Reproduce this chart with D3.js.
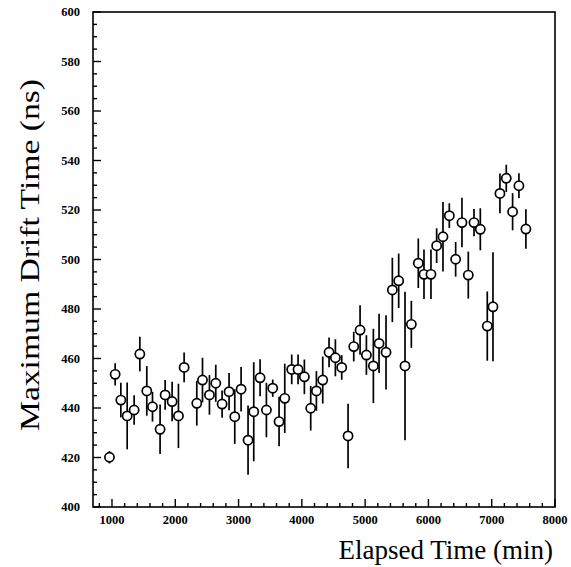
<!DOCTYPE html>
<html><head><meta charset="utf-8">
<script src="https://cdn.jsdelivr.net/npm/d3@7"></script>
<style>body{margin:0;background:#fff}</style>
</head><body>
<svg id="c" width="571" height="567"></svg>
<script>
const elapsed = [960,1050,1140,1240,1350,1440,1550,1640,1760,1840,1950,2050,2140,2340,2430,2540,2640,2740,2850,2940,3040,3150,3240,3340,3440,3540,3640,3730,3840,3940,4040,4140,4230,4330,4430,4530,4630,4730,4820,4920,5020,5130,5220,5330,5430,5530,5630,5730,5840,5930,6040,6130,6230,6330,6430,6530,6630,6720,6820,6930,7020,7130,7230,7330,7430,7540];
const drift = [420.1,453.6,443.2,436.8,439.2,461.8,446.9,440.5,431.4,445.3,442.6,436.8,456.4,441.9,451.3,445.3,450.0,441.6,446.6,436.5,447.6,427.0,438.5,452.2,439.2,448.0,434.5,443.9,455.6,455.6,452.6,439.9,446.9,451.3,462.5,460.3,456.4,428.7,464.8,471.5,461.4,457.0,466.1,462.5,487.7,491.4,457.0,473.8,498.5,494.0,494.0,505.6,509.2,517.7,500.1,514.9,493.7,514.9,512.2,473.1,480.9,526.7,532.8,519.3,529.8,512.3];
const driftErr = [2.5,4.5,7,13.5,6,7,10,6,10,6,8,13,6,9,9,8,7.5,5.5,7.5,11,9,14,20,7.5,11,3.5,10,14,6,6,7,9,8,9.5,6,7.5,5,13,6,10,8,15,12,15,13,11,30,9.5,10,10,10,7,14,5,7,10,9.5,5.5,8.5,14,22,8,5.5,7.5,5,8];
const xTicks = [1000,2000,3000,4000,5000,6000,7000,8000];
const yTicks = [400,420,440,460,480,500,520,540,560,580,600];
const xTitle = "Elapsed Time (min)";
const yTitle = "Maximum Drift Time (ns)";

const L=93, R=555, T=12, B=507;
const svg = d3.select("#c");
const x = d3.scaleLinear().domain([700,8000]).range([L,R]);
const y = d3.scaleLinear().domain([400,600]).range([B,T]);

const xMinor = d3.range(800,8000,200).filter(v=>v%1000!==0);
const yMinor = d3.range(405,600,5).filter(v=>v%20!==0);

const g = svg.append("g").attr("stroke","#000").attr("stroke-width",1.4);
g.selectAll(".xm").data(xMinor).join("line")
  .attr("x1",d=>x(d)).attr("x2",d=>x(d)).attr("y1",B).attr("y2",B-4);
g.selectAll(".xM").data(xTicks).join("line")
  .attr("x1",d=>x(d)).attr("x2",d=>x(d)).attr("y1",B).attr("y2",B-8);
g.selectAll(".ym").data(yMinor).join("line")
  .attr("y1",d=>y(d)).attr("y2",d=>y(d)).attr("x1",L).attr("x2",L+4);
g.selectAll(".yM").data(yTicks).join("line")
  .attr("y1",d=>y(d)).attr("y2",d=>y(d)).attr("x1",L).attr("x2",L+8);

svg.append("rect").attr("x",L).attr("y",T).attr("width",R-L).attr("height",B-T)
  .attr("fill","none").attr("stroke","#000").attr("stroke-width",1.6);

const lab = svg.append("g").attr("font-family","Liberation Serif, Times New Roman, serif")
  .attr("font-weight","bold").attr("font-size",12.5).attr("fill","#000");
lab.selectAll(".xl").data(xTicks).join("text")
  .attr("x",d=>x(d)).attr("y",B+17).attr("text-anchor","middle").text(d=>d);
lab.selectAll(".yl").data(yTicks).join("text")
  .attr("x",L-13).attr("y",d=>y(d)+4).attr("text-anchor","end").text(d=>d);

const data = elapsed.map((t,i)=>({t, v:drift[i], e:driftErr[i]}));
svg.append("g").attr("stroke","#000").attr("stroke-width",1.7)
  .selectAll("line").data(data).join("line")
  .attr("x1",d=>x(d.t)).attr("x2",d=>x(d.t))
  .attr("y1",d=>y(d.v+d.e)).attr("y2",d=>y(d.v-d.e));
svg.append("g").selectAll("circle").data(data).join("circle")
  .attr("cx",d=>x(d.t)).attr("cy",d=>y(d.v)).attr("r",4.6)
  .attr("fill","#fff").attr("stroke","#000").attr("stroke-width",1.7);

svg.append("text").attr("x",553).attr("y",559).attr("text-anchor","end")
  .attr("font-family","Liberation Serif, Times New Roman, serif").attr("font-size",27)
  .attr("fill","#000").text(xTitle);
svg.append("text").attr("transform","translate(39,255) rotate(-90)").attr("text-anchor","middle")
  .attr("font-family","Liberation Serif, Times New Roman, serif").attr("font-size",28)
  .attr("textLength",352).attr("lengthAdjust","spacingAndGlyphs")
  .attr("fill","#000").text(yTitle);
</script>
</body></html>
